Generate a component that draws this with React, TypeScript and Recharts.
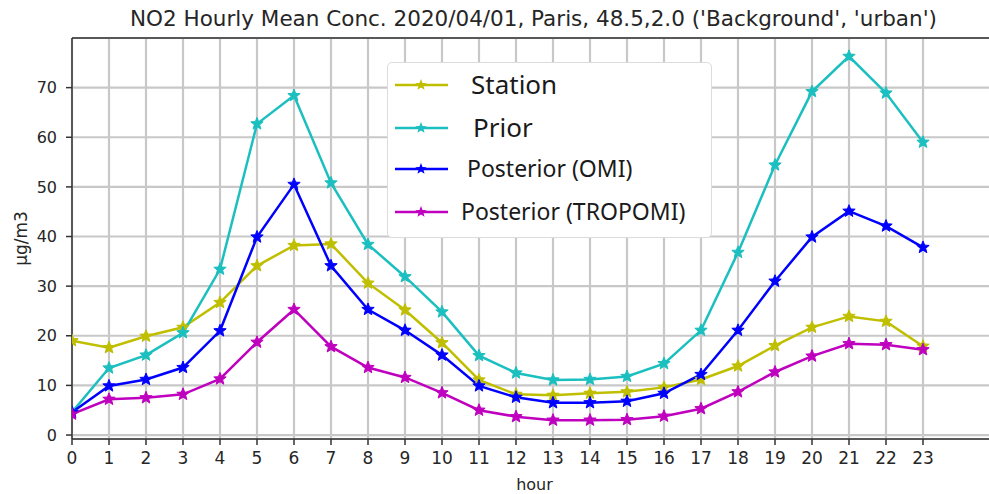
import React from "react"
import { LineChart, Line, XAxis, YAxis, CartesianGrid, Legend, ReferenceLine, Label } from "recharts"

const hours = [0, 1, 2, 3, 4, 5, 6, 7, 8, 9, 10, 11, 12, 13, 14, 15, 16, 17, 18, 19, 20, 21, 22, 23]
const station = [19.0, 17.6, 19.9, 21.7, 26.7, 34.1, 38.2, 38.5, 30.6, 25.2, 18.6, 11.1, 8.2, 8.0, 8.4, 8.7, 9.6, 11.2, 13.9, 18.0, 21.7, 23.9, 22.9, 17.9]
const prior = [4.6, 13.5, 16.1, 20.6, 33.4, 62.7, 68.4, 50.8, 38.4, 31.9, 24.8, 16.0, 12.5, 11.1, 11.2, 11.8, 14.4, 21.1, 36.8, 54.4, 69.2, 76.3, 68.9, 59.0]
const omi = [4.6, 9.9, 11.2, 13.6, 21.0, 39.9, 50.5, 34.1, 25.3, 21.1, 16.1, 9.9, 7.6, 6.5, 6.5, 6.8, 8.4, 12.2, 21.1, 31.0, 39.9, 45.1, 42.1, 37.8]
const tropomi = [4.2, 7.2, 7.5, 8.2, 11.3, 18.7, 25.3, 17.8, 13.6, 11.6, 8.5, 5.0, 3.7, 3.0, 3.0, 3.1, 3.8, 5.3, 8.7, 12.7, 15.9, 18.4, 18.2, 17.2]
const yTicks = [0, 10, 20, 30, 40, 50, 60, 70]

const series = [
  { key: "station", name: "Station", color: "#bfbf00", values: station },
  { key: "prior", name: "Prior", color: "#1cbfbf", values: prior },
  { key: "omi", name: "Posterior (OMI)", color: "#0000ff", values: omi },
  { key: "tropomi", name: "Posterior (TROPOMI)", color: "#bf00bf", values: tropomi },
]

const data = hours.map((h, i) => ({
  hour: h,
  station: station[i],
  prior: prior[i],
  omi: omi[i],
  tropomi: tropomi[i],
}))

function starPath(cx: number, cy: number, R: number, r: number) {
  let d = ""
  for (let k = 0; k < 10; k++) {
    const rad = k % 2 === 0 ? R : r
    const a = -Math.PI / 2 + (k * Math.PI) / 5
    d += (k === 0 ? "M" : "L") + (cx + rad * Math.cos(a)).toFixed(2) + "," + (cy + rad * Math.sin(a)).toFixed(2)
  }
  return d + "Z"
}

const starDot = (key: string, color: string) => (p: any) => (
  <path key={`${key}-${p.index}`} d={starPath(p.cx, p.cy, 6.5, 2.8)} fill={color} stroke={color} strokeWidth={1} />
)

// legend rows: y centre, text x, font size
const legendRows = [
  { y: 22, tx: 83, fs: 26 },
  { y: 65, tx: 85, fs: 26 },
  { y: 106, tx: 79, fs: 23 },
  { y: 149, tx: 73, fs: 23 },
]

const renderLegend = () => (
  <div style={{ width: 325, height: 176, background: "#fff", border: "1.5px solid #dcdcdc", borderRadius: 5, boxSizing: "border-box" }}>
    <svg width={322} height={173}>
      {series.map((s, i) => (
        <g key={s.key}>
          <line x1={7} x2={60} y1={legendRows[i].y} y2={legendRows[i].y} stroke={s.color} strokeWidth={2.5} />
          <path d={starPath(33, legendRows[i].y, 6, 2.6)} fill={s.color} />
          <text x={legendRows[i].tx} y={legendRows[i].y} dy="0.36em" fontSize={legendRows[i].fs} fontFamily="'Noto Sans', sans-serif" fill="#1a1a1a">
            {s.name}
          </text>
        </g>
      ))}
    </svg>
  </div>
)

export default function App() {
  return (
    <div style={{ position: "absolute", left: 0, top: 0, width: 989, height: 494, overflow: "hidden", background: "#fff" }}>
      <div style={{ position: "absolute", left: 0, top: 6, width: 1067, textAlign: "center", fontFamily: "'DejaVu Sans', sans-serif", fontSize: 21.5, color: "#262626", whiteSpace: "nowrap" }}>
        NO2 Hourly Mean Conc. 2020/04/01, Paris, 48.5,2.0 ('Background', 'urban')
      </div>
      <LineChart width={1000} height={494} data={data} margin={{ top: 38, right: 3, bottom: 0, left: 0 }}>
        <CartesianGrid stroke="#c8c8c8" strokeWidth={2.2} />
        <XAxis
          dataKey="hour"
          type="number"
          domain={[0, 25]}
          ticks={hours}
          interval={0}
          height={55}
          tickSize={6}
          tickMargin={7}
          stroke="#333"
          strokeWidth={1.5}
          tick={{ fontSize: 17, fill: "#262626", fontFamily: "'DejaVu Sans', sans-serif" }}
          allowDataOverflow
        >
          <Label value="hour" position="insideBottom" offset={4} style={{ fontSize: 16, fill: "#262626", fontFamily: "'DejaVu Sans', sans-serif" }} />
        </XAxis>
        <YAxis
          width={72}
          domain={[-0.8, 80]}
          ticks={yTicks}
          interval={0}
          tickSize={6}
          tickMargin={9}
          stroke="#333"
          strokeWidth={1.5}
          tick={{ fontSize: 16, fill: "#262626", fontFamily: "'DejaVu Sans', sans-serif" }}
          allowDataOverflow
          label={({ viewBox }: any) => (
            <text
              x={viewBox.x + 21}
              y={viewBox.y + viewBox.height / 2}
              transform={`rotate(-90 ${viewBox.x + 21} ${viewBox.y + viewBox.height / 2})`}
              textAnchor="middle"
              dominantBaseline="central"
              fontSize={17}
              fill="#262626"
              fontFamily="'DejaVu Sans', sans-serif"
            >
              µg/m3
            </text>
          )}
        />
        <ReferenceLine y={80} stroke="#333" strokeWidth={1.5} />
        {series.map((s) => (
          <Line
            key={s.key}
            dataKey={s.key}
            name={s.name}
            stroke={s.color}
            strokeWidth={2.5}
            dot={starDot(s.key, s.color)}
            activeDot={false}
            isAnimationActive={false}
          />
        ))}
        <Legend
          layout="vertical"
          align="center"
          verticalAlign="middle"
          content={renderLegend}
          wrapperStyle={{ left: 387, top: 62, width: 325, height: 176 }}
        />
      </LineChart>
    </div>
  )
}
